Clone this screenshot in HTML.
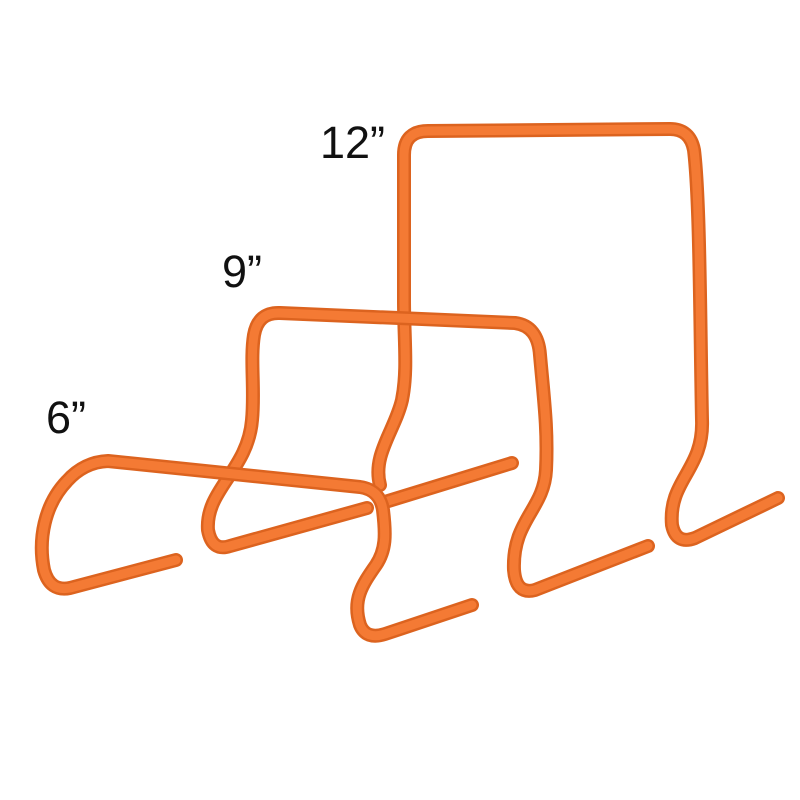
<!DOCTYPE html>
<html><head><meta charset="utf-8"><style>
html,body{margin:0;padding:0;background:#fff;}
svg{display:block;}
text{font-family:"Liberation Sans",sans-serif;fill:#111;}
</style></head><body>
<svg width="800" height="800" viewBox="0 0 800 800">
<g fill="none" stroke-linecap="round" stroke-linejoin="round">
<g>
<path d="M385 502 L512 463" stroke="#dc631f" stroke-width="14"/>
<path d="M385 502 L512 463" stroke="#f47a34" stroke-width="9"/>
<path d="M380 485 C372 455 395 430 402 400 C408 370 404 340 404 300 L404 155 Q404 131 428 131 L670 129 Q690 129 694 150 C700 200 700 320 702 420 C704 470 668 480 672 525 Q676 545 695 538 L778 498" stroke="#dc631f" stroke-width="14"/>
<path d="M380 485 C372 455 395 430 402 400 C408 370 404 340 404 300 L404 155 Q404 131 428 131 L670 129 Q690 129 694 150 C700 200 700 320 702 420 C704 470 668 480 672 525 Q676 545 695 538 L778 498" stroke="#f47a34" stroke-width="9"/>
</g>
<g>
<path d="M367 508 L230 546 Q212 552 208 530 C205 490 248 470 252 420 C255 390 250 360 254 335 Q258 312 280 313 L515 323 Q538 326 540 355 C544 400 548 430 546 470 C544 510 512 520 514 570 Q516 595 535 590 L648 546" stroke="#dc631f" stroke-width="14"/>
<path d="M367 508 L230 546 Q212 552 208 530 C205 490 248 470 252 420 C255 390 250 360 254 335 Q258 312 280 313 L515 323 Q538 326 540 355 C544 400 548 430 546 470 C544 510 512 520 514 570 Q516 595 535 590 L648 546" stroke="#f47a34" stroke-width="9"/>
</g>
<g>
<path d="M176 560 L70 588 Q50 592 44 570 C38 540 44 505 67 481 Q84 462 108 461 L360 487 Q380 490 383 510 C386 535 386 550 376 565 C362 585 352 600 360 625 Q366 640 385 634 L472 605" stroke="#dc631f" stroke-width="14"/>
<path d="M176 560 L70 588 Q50 592 44 570 C38 540 44 505 67 481 Q84 462 108 461 L360 487 Q380 490 383 510 C386 535 386 550 376 565 C362 585 352 600 360 625 Q366 640 385 634 L472 605" stroke="#f47a34" stroke-width="9"/>
</g>
</g>
<text x="320" y="158" font-size="45">12”</text>
<text x="222" y="287" font-size="45">9”</text>
<text x="46" y="433" font-size="45">6”</text>
</svg>
</body></html>
